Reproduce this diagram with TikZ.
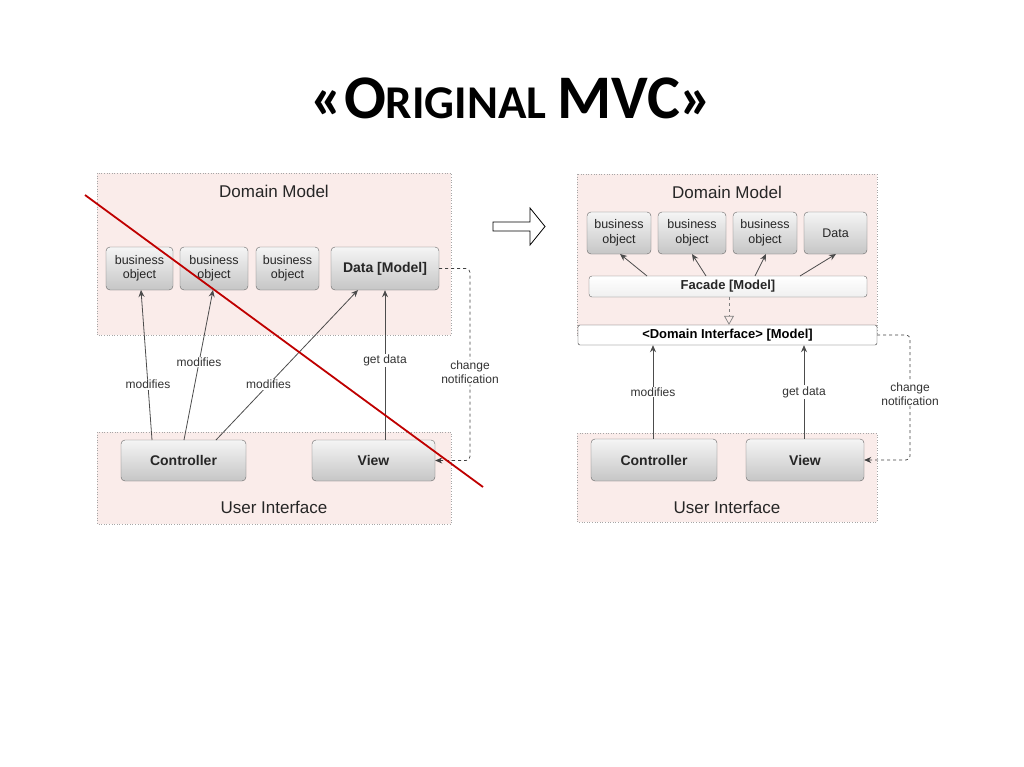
\documentclass[tikz,border=0pt]{standalone}
\usepackage{fontspec}
\setmainfont{Liberation Sans}
\newfontfamily\titlefont{Carlito}
\usetikzlibrary{arrows.meta}
\begin{document}
\begin{tikzpicture}[x=1pt,y=-1pt,
 region/.style={draw=gray!70,dotted,fill={rgb,255:red,250;green,236;blue,234},line width=0.6pt},
 obj/.style={draw=gray!80!black,rounded corners=4pt,top color=gray!8,bottom color=gray!45,inner sep=0pt,align=center,font=\fontsize{12.5}{14.5}\selectfont,text=black!85},
 bobj/.style={obj,font=\bfseries\fontsize{14}{16}\selectfont},
 flat/.style={draw=black!80,rounded corners=2pt,fill=white,inner sep=0pt,font=\bfseries\fontsize{13}{15}\selectfont},
 arr/.style={draw=gray!60!black,line width=0.8pt,-{Stealth[length=7pt,width=6pt]}},
 dashln/.style={draw=black!75,dashed,line width=0.7pt},
 lbl/.style={fill=white,inner sep=1pt,font=\fontsize{12}{14}\selectfont,text=black!80,align=center},
 region label/.style={font=\fontsize{17}{19}\selectfont,text=black!85}]
\useasboundingbox (0,0) rectangle (1024,767);
\node (title) at (512,98) {\titlefont\bfseries\fontsize{62}{66}\selectfont «O\fontsize{47}{50}\selectfont RIGINAL \fontsize{62}{66}\selectfont MVC»};
% ---------- left ----------
\path[region] (97,173) rectangle (451,335);
\path[region] (97,432) rectangle (451,524);
\node[region label] (ldm) at (274,191) {Domain Model};
\node[region label] (lui) at (274,507) {User Interface};
\node[obj,minimum width=67pt,minimum height=43pt] (lb1) at (139.5,268.5) {business\\object};
\node[obj,minimum width=68pt,minimum height=43pt] (lb2) at (214,268.5) {business\\object};
\node[obj,minimum width=63pt,minimum height=43pt] (lb3) at (287.5,268.5) {business\\object};
\node[bobj,minimum width=108pt,minimum height=43pt] (ldata) at (385,268.5) {Data [Model]};
\node[bobj,minimum width=125pt,minimum height=41pt] (lctrl) at (183.5,460.5) {Controller};
\node[bobj,minimum width=123pt,minimum height=41pt] (lview) at (373.5,460.5) {View};
\coordinate (c1) at (152,440); \coordinate (t1) at (141,290);
\coordinate (c2) at (184,440); \coordinate (t2) at (213,290);
\coordinate (c3) at (216,440); \coordinate (t3) at (358,290);
\draw[arr] (c1) -- node[lbl,pos=0.37] {modifies} (t1);
\draw[arr] (c2) -- node[lbl,pos=0.52] {modifies} (t2);
\draw[arr] (c3) -- node[lbl,pos=0.37] {modifies} (t3);
\draw[arr] (lview.north -| 385,0) -- node[lbl,pos=0.53] {get data} (ldata.south -| 385,0);
\draw[dashln,-{Stealth[length=7pt,width=6pt]},rounded corners=4pt] (ldata.east) -- (470,268.5) -- node[lbl,pos=0.54] {change\\notification} (470,460.5) -- (lview.east);
\coordinate (r1) at (85,195); \coordinate (r2) at (483,487);
\draw[red!75!black,line width=1.8pt] (r1) -- (r2);
% ---------- middle arrow ----------
\draw[line width=0.8pt,fill=white] (493,222) -- (530,222) -- (530,208) -- (545,226.5) -- (530,245) -- (530,231) -- (493,231) -- cycle;
% ---------- right ----------
\path[region] (577,174) rectangle (877,335);
\path[region] (577,433) rectangle (877,522);
\node[region label] (rdm) at (727,192) {Domain Model};
\node[region label] (rui) at (727,507) {User Interface};
\node[obj,minimum width=64pt,minimum height=42pt] (rb1) at (619,233) {business\\object};
\node[obj,minimum width=68pt,minimum height=42pt] (rb2) at (692,233) {business\\object};
\node[obj,minimum width=64pt,minimum height=42pt] (rb3) at (765,233) {business\\object};
\node[obj,minimum width=63pt,minimum height=42pt] (rdata) at (835.5,233) {Data};
\node[obj,rounded corners=3pt,top color=white,bottom color=gray!12,font=\bfseries\fontsize{13}{15}\selectfont,minimum width=278pt,minimum height=21pt] (facade) at (728,286.5) {Facade [Model]};
\node[flat,minimum width=299pt,minimum height=20pt] (dint) at (727.5,335) {<Domain Interface> [Model]};
\node[bobj,minimum width=126pt,minimum height=42pt] (rctrl) at (654,460) {Controller};
\node[bobj,minimum width=118pt,minimum height=42pt] (rview) at (805,460) {View};
\coordinate (f1) at (647,276); \coordinate (f2) at (706,276); \coordinate (f3) at (755,276); \coordinate (f4) at (800,276);
\draw[arr] (f1) -- (620,254);
\draw[arr] (f2) -- (692,254);
\draw[arr] (f3) -- (766,254);
\draw[arr] (f4) -- (836,254);
\draw[dashln,gray,-{Triangle[open,length=9pt,width=10pt]}] (facade.south -| 729,0) -- (dint.north -| 729,0);
\draw[arr] (rctrl.north -| 653,0) -- node[lbl] {modifies} (dint.south -| 653,0);
\draw[arr] (rview.north -| 804,0) -- node[lbl] {get data} (dint.south -| 804,0);
\draw[dashln,-{Stealth[length=7pt,width=6pt]},rounded corners=4pt] (dint.east) -- (910,335) -- node[lbl,pos=0.47] {change\\notification} (910,460) -- (rview.east);
\end{tikzpicture}
\end{document}
